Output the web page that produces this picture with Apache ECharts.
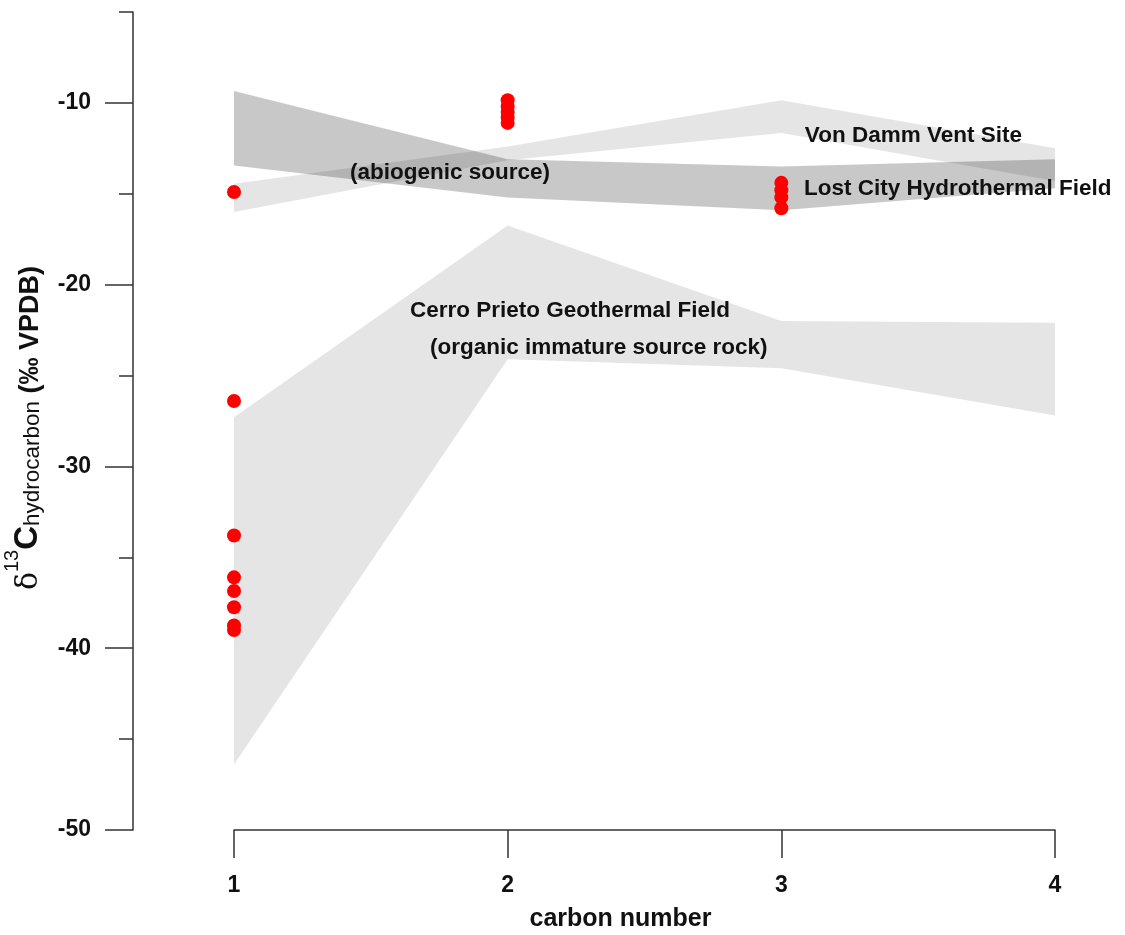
<!DOCTYPE html>
<html>
<head>
<meta charset="utf-8">
<script src="https://cdn.jsdelivr.net/npm/echarts@6/dist/echarts.min.js"></script>
<style>
  html, body { margin: 0; padding: 0; background: #fff; }
  #chart { width: 1125px; height: 935px; }
</style>
</head>
<body>
<div id="chart"></div>
<script>
// ---- data ----
const carbonNumbers = [1, 2, 3, 4];
const lostCityUpper = [-9.35, -13.1, -13.5, -13.1];
const lostCityLower = [-13.45, -15.2, -15.9, -14.7];
const vonDammUpper = [-14.45, -12.4, -9.85, -12.5];
const vonDammLower = [-16.0, -13.15, -11.65, -14.3];
const cerroPrietoUpper = [-27.3, -16.75, -22.0, -22.1];
const cerroPrietoLower = [-46.4, -24.1, -24.6, -27.2];

const samplesC1 = [-14.9, -26.4, -33.8, -36.1, -36.85, -37.75, -38.75, -39.0];
const samplesC2 = [-9.85, -10.2, -10.5, -10.8, -11.1];
const samplesC3 = [-14.4, -14.8, -15.2, -15.8];

const yMajorTicks = [-50, -40, -30, -20, -10];
const xTicks = [1, 2, 3, 4];

const annotationTexts = ['Von Damm Vent Site', 'Lost City Hydrothermal Field', '(abiogenic source)',
  'Cerro Prieto Geothermal Field', '(organic immature source rock)'];
const annotationX = [3.086, 3.083, 1.424, 1.643, 1.716];
const annotationY = [-11.81, -14.73, -13.85, -21.43, -23.46];

// ---- build ----
const bands = [
  { upper: lostCityUpper, lower: lostCityLower, color: 'rgba(0,0,0,0.215)' },
  { upper: vonDammUpper, lower: vonDammLower, color: 'rgba(0,0,0,0.10)' },
  { upper: cerroPrietoUpper, lower: cerroPrietoLower, color: 'rgba(0,0,0,0.10)' }
];

const points = [];
samplesC1.forEach(v => points.push([1, v]));
samplesC2.forEach(v => points.push([2, v]));
samplesC3.forEach(v => points.push([3, v]));

const annotations = annotationTexts.map((t, i) => ({ value: [annotationX[i], annotationY[i]], name: t }));

const FONT = '"Liberation Sans", Arial, Helvetica, sans-serif';

const chart = echarts.init(document.getElementById('chart'));
chart.setOption({
  animation: false,
  backgroundColor: '#ffffff',
  grid: { left: 234, right: 70, top: 12, bottom: 105, containLabel: false, outerBoundsMode: 'none' },
  xAxis: {
    type: 'value', min: 1, max: 4, interval: 1,
    name: 'carbon number', nameLocation: 'middle', nameGap: 77,
    nameTextStyle: { fontFamily: FONT, fontSize: 25, fontWeight: 'bold', color: '#111', padding: [0, 48, 0, 0] },
    axisLine: { show: true, lineStyle: { color: '#333', width: 1.5 } },
    axisTick: { show: true, length: 28, lineStyle: { color: '#333', width: 1.5 } },
    axisLabel: { fontFamily: FONT, fontSize: 23, fontWeight: 'bold', color: '#111', margin: 44,
      customValues: xTicks },
    splitLine: { show: false }
  },
  yAxis: [{
    type: 'value', min: -50, max: -5, position: 'left', offset: 101,
    name: '{d|δ}{sup|13}{c|C}{sub|hydrocarbon}{p| (‰ VPDB)}',
    nameLocation: 'middle', nameRotate: 90, nameGap: 89,
    nameTextStyle: {
      fontFamily: FONT, color: '#111', padding: [0, 14, 0, 0],
      rich: {
        d: { fontFamily: '"DejaVu Serif", serif', fontSize: 30, color: '#111', verticalAlign: 'bottom', lineHeight: 36 },
        sup: { fontFamily: FONT, fontSize: 20, color: '#111', verticalAlign: 'top', lineHeight: 36 },
        c: { fontFamily: FONT, fontSize: 33, fontWeight: 'bold', color: '#111', verticalAlign: 'bottom', lineHeight: 36 },
        sub: { fontFamily: FONT, fontSize: 22.5, color: '#111', verticalAlign: 'bottom', lineHeight: 42 },
        p: { fontFamily: FONT, fontSize: 27, fontWeight: 'bold', color: '#111', verticalAlign: 'bottom', lineHeight: 36 }
      }
    },
    axisLine: { show: true, lineStyle: { color: '#333', width: 1.5 } },
    axisTick: { show: true, length: 28, customValues: yMajorTicks, lineStyle: { color: '#333', width: 1.5 } },
    axisLabel: { fontFamily: FONT, fontSize: 23, fontWeight: 'bold', color: '#111', margin: 42,
      customValues: yMajorTicks },
    splitLine: { show: false }
  }, {
    type: 'value', min: -50, max: -5, interval: 5, position: 'left', offset: 101,
    axisLine: { show: false },
    axisTick: { show: true, length: 14, lineStyle: { color: '#333', width: 1.5 } },
    axisLabel: { show: false },
    splitLine: { show: false }
  }],
  series: [
    {
      type: 'custom',
      yAxisIndex: 0,
      silent: true,
      z: 1,
      data: bands.map((b, i) => [i]),
      renderItem: function (params, api) {
        const b = bands[api.value(0)];
        const pts = [];
        carbonNumbers.forEach((x, k) => pts.push(api.coord([x, b.upper[k]])));
        for (let k = carbonNumbers.length - 1; k >= 0; k--) pts.push(api.coord([carbonNumbers[k], b.lower[k]]));
        return { type: 'polygon', shape: { points: pts }, style: { fill: b.color } };
      }
    },
    {
      type: 'scatter',
      yAxisIndex: 0,
      z: 3,
      symbol: 'circle',
      symbolSize: 14,
      itemStyle: { color: '#ff0000', opacity: 1 },
      data: points
    },
    {
      type: 'scatter',
      yAxisIndex: 0,
      z: 4,
      symbolSize: 0,
      silent: true,
      itemStyle: { opacity: 1 },
      data: annotations,
      label: {
        show: true, position: 'right', distance: 0,
        formatter: p => p.name,
        fontFamily: FONT, fontSize: 22.5, fontWeight: 'bold', color: '#111'
      }
    }
  ]
});
</script>
</body>
</html>
